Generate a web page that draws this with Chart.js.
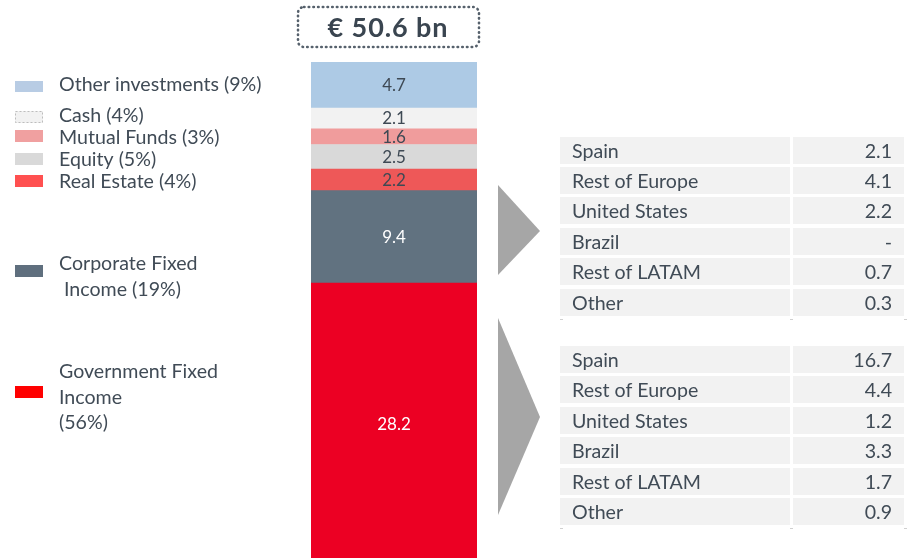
<!DOCTYPE html>
<html>
<head>
<meta charset="utf-8">
<script src="https://cdn.jsdelivr.net/npm/chart.js@4/dist/chart.umd.min.js"></script>
<style>
html,body{margin:0;padding:0;background:#fff;overflow:hidden;}
#wrap{width:909px;height:558px;position:relative;}
</style>
</head>
<body>
<div id="wrap"><canvas id="c" width="909" height="558"></canvas></div>
<script>
// ---- data ----
const categories = ['Government Fixed Income','Corporate Fixed Income','Real Estate','Equity','Mutual Funds','Cash','Other investments'];
const values = [28.2, 9.4, 2.2, 2.5, 1.6, 2.1, 4.7];
const shares = [56, 19, 4, 5, 3, 4, 9];
const totalLabel = '€ 50.6 bn';
const legendLines = [
  ['Government Fixed','Income','(56%)'],
  ['Corporate Fixed',' Income (19%)'],
  ['Real Estate (4%)'],
  ['Equity (5%)'],
  ['Mutual Funds (3%)'],
  ['Cash (4%)'],
  ['Other investments (9%)']
];
const regions = ['Spain','Rest of Europe','United States','Brazil','Rest of LATAM','Other'];
const corporateByRegion = [2.1, 4.1, 2.2, null, 0.7, 0.3];
const governmentByRegion = [16.7, 4.4, 1.2, 3.3, 1.7, 0.9];

// ---- styles ----
const barColors = ['#EC0023','#617280','#EE5858','#D9D9D9','#F09C9C','#F2F2F2','#ADCAE5'];
const swatchColors = ['#FF0000','#5F6F7E','#FF5050','#D9D9D9','#F0A0A0','#F2F2F2','#B8CCE4'];
const labelColors = ['#FFFFFF','#FFFFFF','#3E4954','#3E4954','#3E4954','#3E4954','#3E4954'];
const textColor = '#404B56';
const FONT = 'Lato, "Open Sans", sans-serif';

// legend layout: swatch top, line baselines
const legendLayout = [
  {sw:386, base:[378,404,429]},
  {sw:265, base:[270,296]},
  {sw:175, base:[188]},
  {sw:153, base:[166]},
  {sw:130, base:[144]},
  {sw:111, base:[122]},
  {sw:81,  base:[91], h:11}
];

const tableTops = [
  [137,167,197,228,258,289],
  [346,376,407,437,468,498]
];

const decorPlugin = {
  id:'decor',
  afterDatasetsDraw(chart){
    const ctx = chart.ctx;
    ctx.save();
    ctx.font = '17px ' + FONT;
    ctx.textAlign = 'center';
    ctx.textBaseline = 'alphabetic';
    chart.data.datasets.forEach((ds, i) => {
      const el = chart.getDatasetMeta(i).data[0];
      const cy = (el.y + el.base) / 2;
      ctx.fillStyle = labelColors[i];
      ctx.fillText(values[i].toFixed(1), el.x, cy + (i === 0 ? 9 : 6));
    });
    ctx.restore();
  },
  afterDraw(chart){
    const ctx = chart.ctx;
    ctx.save();
    // title box
    ctx.strokeStyle = '#56616C';
    ctx.lineWidth = 2.6;
    ctx.lineCap = 'round';
    ctx.setLineDash([0.5,4.2]);
    ctx.beginPath();
    ctx.roundRect(298, 7, 181, 40, 6);
    ctx.stroke();
    ctx.setLineDash([]);
    ctx.lineCap = 'butt';
    ctx.fillStyle = '#3A4550';
    ctx.font = 'bold 27px ' + FONT;
    ctx.letterSpacing = '0.9px';
    ctx.textAlign = 'center';
    ctx.textBaseline = 'alphabetic';
    ctx.fillText(totalLabel, 388, 37);
    ctx.letterSpacing = '0px';

    // legend
    ctx.textAlign = 'left';
    ctx.font = '19.6px ' + FONT;
    legendLayout.forEach((L, i) => {
      const h = L.h || 12;
      ctx.fillStyle = swatchColors[i];
      ctx.fillRect(15, L.sw, 28, h);
      if (categories[i] === 'Cash') {
        ctx.strokeStyle = '#BDBDBD';
        ctx.lineWidth = 1;
        ctx.setLineDash([2,2]);
        ctx.strokeRect(15.5, L.sw + 0.5, 27, h - 1);
        ctx.setLineDash([]);
      }
      ctx.fillStyle = textColor;
      legendLines[i].forEach((line, j) => ctx.fillText(line, 59, L.base[j]));
    });

    // arrows
    ctx.fillStyle = '#A6A6A6';
    ctx.beginPath();
    ctx.moveTo(498,185); ctx.lineTo(540,231); ctx.lineTo(498,275); ctx.closePath(); ctx.fill();
    ctx.beginPath();
    ctx.moveTo(498,318); ctx.lineTo(540,417); ctx.lineTo(498,515); ctx.closePath(); ctx.fill();

    // tables
    const tables = [corporateByRegion, governmentByRegion];
    tables.forEach((vals, t) => {
      tableTops[t].forEach((top, r) => {
        ctx.fillStyle = '#F2F2F2';
        ctx.fillRect(560, top, 230, 27);
        ctx.fillRect(793, top, 111, 27);
        ctx.fillStyle = textColor;
        ctx.font = '19.6px ' + FONT;
        ctx.textAlign = 'left';
        ctx.fillText(regions[r], 572, top + 21);
        ctx.textAlign = 'right';
        const v = vals[r];
        ctx.fillText(v === null ? '-' : v.toFixed(1), 892, top + 21);
      });
      // faint border remnants
      const last = tableTops[t][5] + 30;
      ctx.fillStyle = '#D0D0D0';
      [560, 790, 904].forEach(x => ctx.fillRect(x, last, 3, 1));
    });
    ctx.restore();
  }
};

function build(){
  new Chart(document.getElementById('c'), {
    type:'bar',
    data:{
      labels:['Portfolio'],
      datasets: categories.map((c, i) => ({
        label: c,
        data: [values[i]],
        backgroundColor: barColors[i],
        borderWidth: 0,
        barPercentage: 1,
        categoryPercentage: 1,
        stack: 's'
      }))
    },
    options:{
      responsive:false,
      devicePixelRatio:1,
      animation:false,
      layout:{padding:{left:311, right:432, top:62, bottom:0}},
      scales:{
        x:{display:false, stacked:true},
        y:{display:false, stacked:true, min:0.2, max:50.7}
      },
      plugins:{legend:{display:false}, tooltip:{enabled:false}}
    },
    plugins:[decorPlugin]
  });
}
Promise.all([
  document.fonts.load('19px Lato'),
  document.fonts.load('bold 27px Lato')
]).then(build, build);
</script>
</body>
</html>
